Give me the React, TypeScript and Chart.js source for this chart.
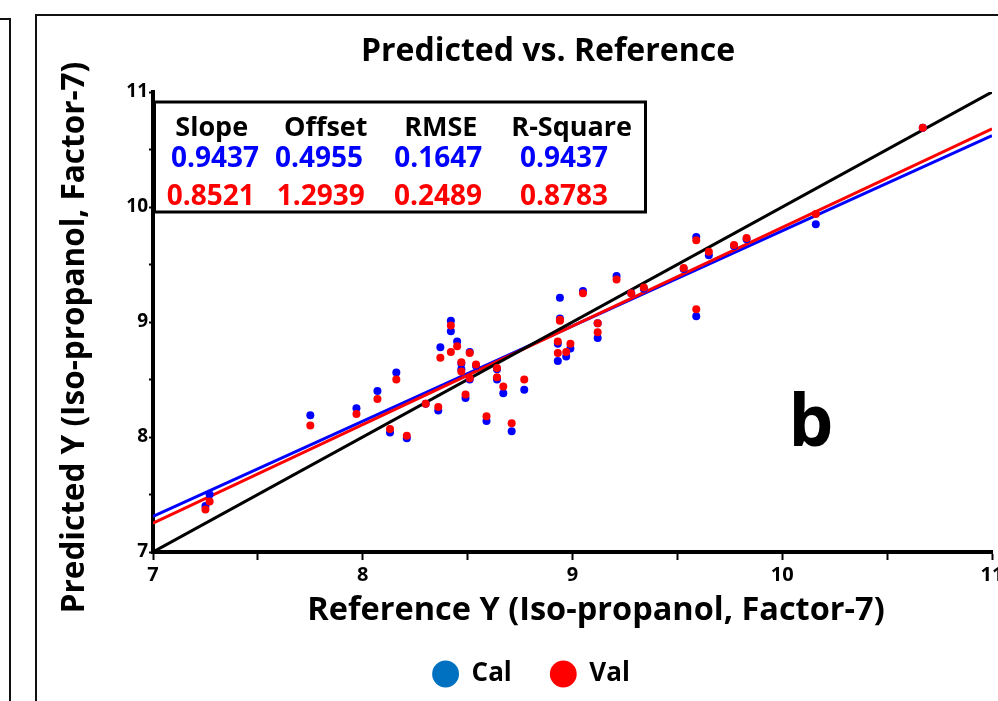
import React, { useEffect, useRef } from 'react';
import { Chart, registerables } from 'chart.js';

Chart.register(...registerables);

const FONT = '"Open Sans", Lato, sans-serif';

// ---- data ----
const referenceX = [
  7.27, 7.25, 7.75, 7.97, 8.07, 8.13, 8.16, 8.21, 8.30, 8.36,
  8.37, 8.42, 8.42, 8.45, 8.47, 8.47, 8.49, 8.51, 8.51, 8.54,
  8.59, 8.64, 8.64, 8.67, 8.71, 8.77, 8.94, 8.94, 8.93, 8.93,
  8.97, 8.99, 9.05, 9.12, 9.12, 9.21, 9.28, 9.34, 9.53, 9.59,
  9.59, 9.65, 9.77, 9.83, 10.16, 10.67,
];
const calPredicted = [
  7.50, 7.40, 8.19, 8.25, 8.40, 8.04, 8.56, 7.99, 8.29, 8.23,
  8.78, 9.01, 8.92, 8.83, 8.64, 8.59, 8.34, 8.74, 8.50, 8.62,
  8.14, 8.59, 8.50, 8.38, 8.05, 8.41, 9.21, 9.03, 8.81, 8.66,
  8.70, 8.77, 9.27, 8.99, 8.86, 9.40, 9.25, 9.29, 9.46, 9.74,
  9.05, 9.58, 9.66, 9.72, 9.85, 10.69,
];
const valPredicted = [
  7.44, 7.37, 8.10, 8.20, 8.33, 8.07, 8.50, 8.01, 8.29, 8.26,
  8.69, 8.97, 8.74, 8.79, 8.65, 8.57, 8.37, 8.73, 8.51, 8.63,
  8.18, 8.60, 8.52, 8.44, 8.12, 8.50, 9.01, 9.02, 8.83, 8.73,
  8.74, 8.81, 9.25, 8.99, 8.91, 9.37, 9.25, 9.30, 9.47, 9.71,
  9.11, 9.61, 9.67, 9.73, 9.94, 10.69,
];

const lineX = [7, 11];
const identityY = [7, 11];
const calFitY = [7.31, 10.62];
const valFitY = [7.25, 10.68];

const axisMin = 7;
const axisMax = 11;
const tickStep = 0.5;

const seriesNames = ['Cal', 'Val'];
const statHeaders = ['Slope', 'Offset', 'RMSE', 'R-Square'];
const calStats = ['0.9437', '0.4955', '0.1647', '0.9437'];
const valStats = ['0.8521', '1.2939', '0.2489', '0.8783'];

const chartTitle = 'Predicted vs. Reference';
const xTitle = 'Reference Y (Iso-propanol, Factor-7)';
const yTitle = 'Predicted Y (Iso-propanol, Factor-7)';
const panelLabel = 'b';

// ---- styles ----
const CAL_COLOR = '#0000FF';
const VAL_COLOR = '#FF0000';
const CAL_LEGEND = '#0070C0';

const toPoints = (xs: number[], ys: number[]) => xs.map((x, i) => ({ x, y: ys[i] }));

const overlayPlugin = {
  id: 'overlay',
  afterDraw(chart: any) {
    const { ctx, chartArea: a } = chart;
    ctx.save();
    ctx.fillStyle = '#000';
    ctx.textAlign = 'center';
    ctx.textBaseline = 'alphabetic';

    // chart title
    ctx.font = `bold 32px ${FONT}`;
    ctx.fillText(chartTitle, a.left + 395, a.top - 31);

    // x axis title
    ctx.font = `bold 32.5px ${FONT}`;
    ctx.fillText(xTitle, a.left + 443, a.bottom + 67.5);

    // y axis title
    ctx.save();
    ctx.translate(a.left - 69, a.top + 245.5);
    ctx.rotate(-Math.PI / 2);
    ctx.font = `bold 31.5px ${FONT}`;
    ctx.fillText(yTitle, 0, 0);
    ctx.restore();

    // stats box
    const bx = a.left + 1.5;
    const by = a.top + 10;
    const bw = 491;
    const bh = 110;
    ctx.fillStyle = '#fff';
    ctx.fillRect(bx, by, bw, bh);
    ctx.lineWidth = 3;
    ctx.strokeStyle = '#000';
    ctx.strokeRect(bx, by, bw, bh);

    const headerX = [58.7, 172.8, 287.8, 418.7];
    const calX = [62, 166, 285.3, 411];
    const valX = [57.8, 167.8, 285, 411];
    ctx.font = `bold 27px ${FONT}`;
    ctx.fillStyle = '#000';
    statHeaders.forEach((t, i) => ctx.fillText(t, a.left + headerX[i], a.top + 43.7));
    ctx.font = `bold 28px ${FONT}`;
    ctx.fillStyle = CAL_COLOR;
    calStats.forEach((t, i) => ctx.fillText(t, a.left + calX[i], a.top + 74.7));
    ctx.fillStyle = VAL_COLOR;
    valStats.forEach((t, i) => ctx.fillText(t, a.left + valX[i], a.top + 113));

    // panel label
    ctx.fillStyle = '#000';
    ctx.font = `bold 71px ${FONT}`;
    ctx.fillText(panelLabel, a.left + 658, a.top + 354);

    ctx.restore();
  },
};

function ChartPanel() {
  const canvasRef = useRef<HTMLCanvasElement | null>(null);

  useEffect(() => {
    const canvas = canvasRef.current;
    if (!canvas) return;

    const tickCallback = (v: any) => (Number(v) % 1 === 0 ? String(v) : '');

    const chart = new Chart(canvas, {
      type: 'scatter',
      data: {
        datasets: [
          {
            label: seriesNames[1],
            data: toPoints(referenceX, valPredicted),
            backgroundColor: VAL_COLOR,
            borderWidth: 0,
            pointRadius: 4,
            order: 0,
          },
          {
            label: seriesNames[0],
            data: toPoints(referenceX, calPredicted),
            backgroundColor: CAL_COLOR,
            borderWidth: 0,
            pointRadius: 4,
            order: 1,
          },
          {
            label: 'identity',
            data: toPoints(lineX, identityY),
            showLine: true,
            borderColor: '#000',
            borderWidth: 3,
            pointRadius: 0,
            order: 2,
          },
          {
            label: 'val fit',
            data: toPoints(lineX, valFitY),
            showLine: true,
            borderColor: VAL_COLOR,
            borderWidth: 3,
            pointRadius: 0,
            order: 3,
          },
          {
            label: 'cal fit',
            data: toPoints(lineX, calFitY),
            showLine: true,
            borderColor: CAL_COLOR,
            borderWidth: 3,
            pointRadius: 0,
            order: 4,
          },
        ],
      },
      options: {
        responsive: false,
        animation: false,
        devicePixelRatio: 1,
        layout: { padding: { top: 77, left: 35.4, right: 43, bottom: 78 } },
        scales: {
          x: {
            type: 'linear',
            min: axisMin,
            max: axisMax,
            afterFit: (s: any) => { s.height = 70.5; },
            border: { display: true, color: '#000', width: 4 },
            grid: { display: true, drawOnChartArea: false, drawTicks: true, tickLength: 8, tickWidth: 2, tickColor: '#000' },
            ticks: {
              stepSize: tickStep,
              autoSkip: false,
              maxRotation: 0,
              padding: 3,
              color: '#000',
              font: { family: FONT, size: 20, weight: 'bold' },
              callback: tickCallback,
            },
            title: { display: false },
          },
          y: {
            type: 'linear',
            min: axisMin,
            max: axisMax,
            afterFit: (s: any) => { s.width = 82.6; },
            border: { display: true, color: '#000', width: 4 },
            grid: { display: true, drawOnChartArea: false, drawTicks: true, tickLength: 4, tickWidth: 2, tickColor: '#000' },
            ticks: {
              stepSize: tickStep,
              autoSkip: false,
              padding: 1,
              color: '#000',
              font: { family: FONT, size: 19, weight: 'bold' },
              callback: tickCallback,
            },
            title: { display: false },
          },
        },
        plugins: {
          title: { display: false },
          tooltip: { enabled: false },
          legend: {
            display: true,
            position: 'bottom',
            labels: {
              usePointStyle: true,
              boxWidth: 26,
              boxHeight: 19,
              padding: 38.5,
              color: '#000',
              font: { family: FONT, size: 26, weight: 'bold' },
              generateLabels: () => [
                { text: seriesNames[0], fillStyle: CAL_LEGEND, strokeStyle: CAL_LEGEND, lineWidth: 0, pointStyle: 'circle', hidden: false, datasetIndex: 1, fontColor: '#000' },
                { text: seriesNames[1], fillStyle: VAL_COLOR, strokeStyle: VAL_COLOR, lineWidth: 0, pointStyle: 'circle', hidden: false, datasetIndex: 0, fontColor: '#000' },
              ],
            },
          },
        },
      } as any,
      plugins: [overlayPlugin],
    });

    return () => chart.destroy();
  }, []);

  return (
    <canvas
      ref={canvasRef}
      width={1000}
      height={760}
      style={{ position: 'absolute', left: 35, top: 15, width: 1000, height: 760 }}
    />
  );
}

export default function App() {
  return (
    <div
      style={{
        position: 'fixed',
        left: 0,
        top: 0,
        width: 998,
        height: 701,
        overflow: 'hidden',
        background: '#fff',
      }}
    >
      {/* neighbouring panel frame edge */}
      <div
        style={{
          position: 'absolute',
          left: -4,
          top: 18,
          width: 13,
          height: 800,
          borderTop: '2px solid #111',
          borderRight: '2px solid #111',
        }}
      />
      {/* this panel's frame */}
      <div
        style={{
          position: 'absolute',
          left: 35,
          top: 14,
          width: 1100,
          height: 800,
          borderTop: '2px solid #111',
          borderLeft: '2px solid #111',
        }}
      />
      <ChartPanel />
    </div>
  );
}
